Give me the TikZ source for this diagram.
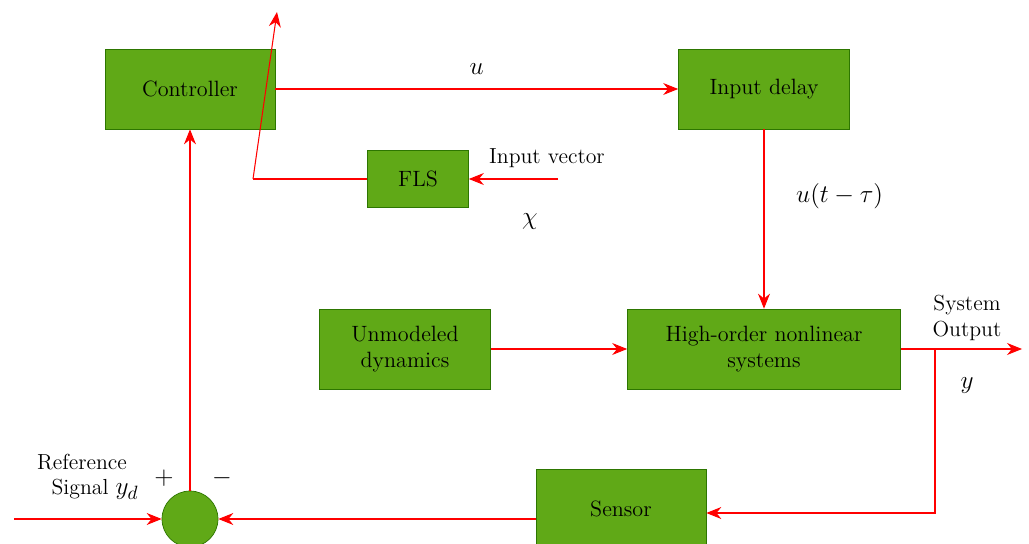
\documentclass[tikz,border=0pt,12pt]{standalone}
\usepackage{tikz}
\usetikzlibrary{
  positioning,
  arrows.meta,
  calc
}
\definecolor{blockgreen}{HTML}{60A917}
\definecolor{blockedge}{HTML}{2D7600}
\definecolor{wirered}{HTML}{FF0000}
\tikzset{
  block/.style={
    draw=blockedge, fill=blockgreen,
    minimum width=3.4cm,
    minimum height=1.6cm,
    font=\fontsize{12.6}{15}\selectfont,
    align=center, inner sep=2pt, text=black
  },
  wire/.style={-{Stealth[length=3mm,width=2.4mm]}, wirered, line width=0.6pt},
  plainwire/.style={wirered, line width=0.6pt},
  mathlbl/.style={font=\fontsize{15}{18}\selectfont, text=black},
  txtlbl/.style={font=\fontsize{12.4}{14.5}\selectfont, align=center, text=black}
}

\begin{document}
\begin{tikzpicture}[x=0.02cm, y=-0.02cm]
\useasboundingbox (0,0) rectangle (1029,544);
\clip (0,0) rectangle (1029,544);

% Bloques
\node[block] (ctrl) at (190, 89) {Controller};
\node[block, minimum width=3.42cm] (delay) at (764, 89) {Input delay};
\node[block, minimum width=2.02cm, minimum height=1.14cm] (fls) at (418, 179) {FLS};
\node[block, minimum width=3.42cm] (unmod) at (405, 349) {Unmodeled\\dynamics};
\node[block, minimum width=5.46cm] (plant) at (764, 349) {High-order nonlinear\\systems};
\node[block] (sensor) at (621, 509) {Sensor};
\node[circle, draw=blockedge, fill=blockgreen, minimum size=1.12cm, inner sep=0pt] (sum) at (190, 519) {};

% Puntos auxiliares
\coordinate (flsbend) at (253, 179);
\coordinate (fbtip) at (277, 12);
\coordinate (invec) at (558, 179);
\coordinate (refin) at (14, 519);
\coordinate (outtip) at (1022, 349);
\coordinate (branch) at (935, 349);
\coordinate (branchlow) at (935, 513);

% Conexiones
\draw[wire] (ctrl) -- (delay) node[mathlbl, midway, above=4pt] {$u$};
\draw[wire] (delay) -- (plant) node[mathlbl, pos=0.37, right=14pt] {$u(t-\tau)$};
\draw[wire] (invec) -- (fls);
\draw[plainwire] (fls) -- (flsbend);
\draw[wire] (flsbend) -- (fbtip);
\draw[wire] (unmod) -- (plant);
\draw[wire] (plant) -- (outtip);
\draw[wire] (branch) -- (branchlow) -- (sensor.east |- branchlow);
\draw[wire] (sensor.west |- sum) -- (sum);
\draw[wire] (refin) -- (sum);
\draw[wire] (sum) -- (ctrl);

% Etiquetas
\node[txtlbl] (invlbl) at (547, 158) {Input vector};
\node[mathlbl] (chilbl) at (530, 222) {$\chi$};
\node[txtlbl] (outlbl) at (967, 318) {System\\Output};
\node[mathlbl] (ylbl) at (967, 386) {$y$};
\node[txtlbl] (reflbl) at (82, 477) {Reference\\\hspace*{1.2em}Signal {\fontsize{15}{18}\selectfont$y_d$}};
\node[mathlbl] (plus) at (164, 478) {$+$};
\node[mathlbl] (minus) at (222, 478) {$-$};

\end{tikzpicture}
\end{document}
